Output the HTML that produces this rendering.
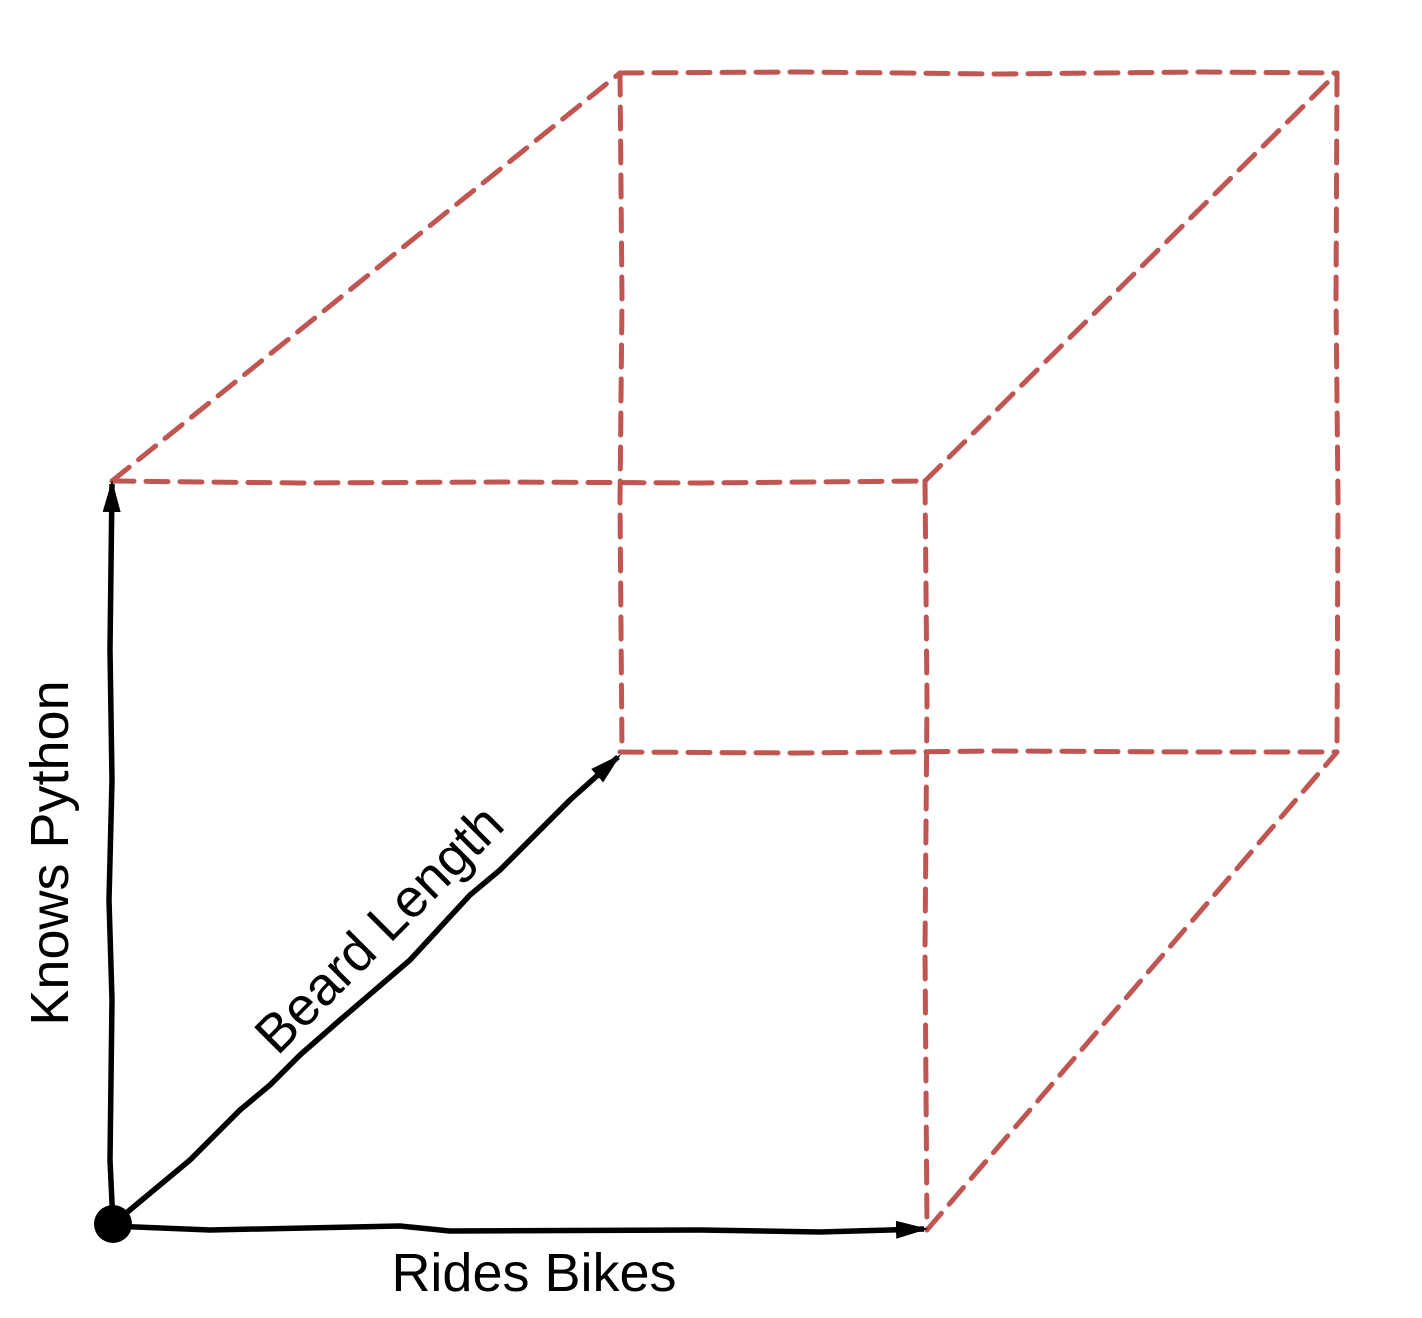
<!DOCTYPE html>
<html><head><meta charset="utf-8"><style>
html,body{margin:0;padding:0;background:#fff;}
svg{display:block;}
text{font-family:"Liberation Sans",sans-serif;fill:#000;}
</style></head><body>
<svg width="1422" height="1318" viewBox="0 0 1422 1318">
<defs>
<marker id="ah" markerWidth="32" markerHeight="20" refX="28" refY="10" orient="auto" markerUnits="userSpaceOnUse" viewBox="0 0 32 20">
<path d="M0,1 L32,10 L0,19 Z" fill="#000"/>
</marker>
</defs>
<g fill="none" stroke="#bf5652" stroke-width="5" stroke-dasharray="22 12" stroke-linecap="round">
<path d="M112,481 L300,483 L500,482 L700,483 L925,481"/>
<path d="M620,73 L800,72 L1000,74 L1200,72 L1337,73"/>
<path d="M112,481 L620,73"/>
<path d="M925,481 L1337,73"/>
<path d="M620,73 L622,300 L620,500 L622,752"/>
<path d="M1337,73 L1336,300 L1338,500 L1337,752"/>
<path d="M620,752 L800,753 L1000,751 L1200,752 L1337,752"/>
<path d="M925,481 L927,700 L925,950 L927,1230"/>
<path d="M927,1230 L1337,752"/>
</g>
<g fill="none" stroke="#000" stroke-width="5.5" stroke-linejoin="round">
<path d="M113,1224 L110,1160 L112,1000 L109,900 L112,780 L110,650 L112,484" marker-end="url(#ah)"/>
<path d="M113,1226 L210,1230 L400,1226 L450,1231 L700,1230 L820,1232 L924,1229" marker-end="url(#ah)"/>
<path d="M113,1224 L190,1160 L240,1110 L270,1085 L300,1055 L340,1020 L410,960 L470,895 L500,870 L540,830 L570,800 L618,757" marker-end="url(#ah)"/>
</g>
<circle cx="113" cy="1224" r="19" fill="#000"/>
<text x="0" y="0" font-size="54" text-anchor="middle" transform="translate(68,853) rotate(-90)">Knows Python</text>
<text x="0" y="0" font-size="54" text-anchor="middle" transform="translate(392,942) rotate(-45)">Beard Length</text>
<text x="534" y="1291" font-size="54" text-anchor="middle">Rides Bikes</text>
</svg>
</body></html>
